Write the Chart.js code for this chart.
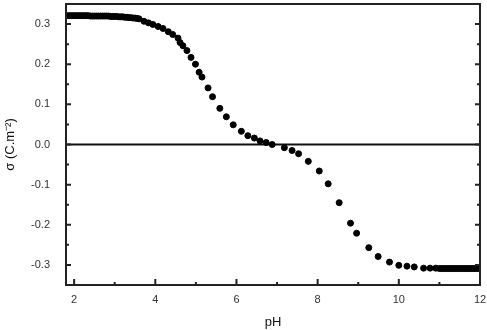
<!DOCTYPE html>
<html>
<head>
<meta charset="utf-8">
<script src="https://cdn.jsdelivr.net/npm/chart.js@4/dist/chart.umd.min.js"></script>
<style>
  html, body { margin: 0; padding: 0; background: #fff; }
  #wrap { width: 487px; height: 330px; }
</style>
</head>
<body>
<div id="wrap"><canvas id="chart"></canvas></div>
<script>
// pH values
const phValues = [
  1.85, 1.90, 1.95, 2.00, 2.05, 2.10, 2.15, 2.20, 2.25, 2.30, 2.35, 2.40,
  2.45, 2.50, 2.55, 2.60, 2.65, 2.70, 2.75, 2.80, 2.85, 2.90, 2.95, 3.00,
  3.05, 3.10, 3.15, 3.20, 3.25, 3.30, 3.35, 3.40, 3.45, 3.50, 3.55, 3.60,
  3.72, 3.83, 3.94, 4.07, 4.19, 4.32, 4.43, 4.56, 4.61, 4.68, 4.78, 4.88,
  4.99, 5.08, 5.15, 5.30, 5.41, 5.59, 5.75, 5.92, 6.12, 6.28, 6.44, 6.58,
  6.73, 6.88, 7.18, 7.37, 7.53, 7.77, 8.04, 8.26, 8.53, 8.81, 8.96, 9.26,
  9.49, 9.77, 10.00, 10.20, 10.38, 10.61, 10.77, 10.91,
  11.00, 11.05, 11.10, 11.15, 11.20, 11.25, 11.30, 11.35, 11.40, 11.45,
  11.50, 11.55, 11.60, 11.65, 11.70, 11.75, 11.80, 11.85, 11.90, 11.95, 12.00
];
// surface charge density (C.m-2)
const sigmaValues = [
  0.321, 0.321, 0.321, 0.321, 0.321, 0.321, 0.321, 0.321, 0.321, 0.321, 0.321, 0.320,
  0.320, 0.320, 0.320, 0.320, 0.320, 0.320, 0.320, 0.320, 0.320, 0.319, 0.319, 0.319,
  0.319, 0.318, 0.318, 0.318, 0.317, 0.317, 0.316, 0.316, 0.315, 0.315, 0.314, 0.313,
  0.307, 0.303, 0.299, 0.294, 0.289, 0.281, 0.274, 0.265, 0.254, 0.246, 0.234, 0.217,
  0.200, 0.180, 0.168, 0.141, 0.119, 0.090, 0.069, 0.049, 0.033, 0.022, 0.016, 0.009,
  0.005, 0.000, -0.008, -0.015, -0.023, -0.042, -0.066, -0.098, -0.145, -0.196, -0.221, -0.257,
  -0.279, -0.293, -0.301, -0.303, -0.305, -0.308, -0.308, -0.308,
  -0.309, -0.309, -0.309, -0.309, -0.309, -0.309, -0.309, -0.309, -0.309, -0.309,
  -0.309, -0.309, -0.309, -0.309, -0.309, -0.309, -0.309, -0.309, -0.309, -0.309, -0.307
];
const xTicks = [2, 4, 6, 8, 10, 12];
const xMinorTicks = [3, 5, 7, 9, 11];
const yTicks = [-0.3, -0.2, -0.1, 0.0, 0.1, 0.2, 0.3];
const yMinorTicks = [-0.35, -0.25, -0.15, -0.05, 0.05, 0.15, 0.25];

const points = phValues.map((x, i) => ({ x: x, y: sigmaValues[i] }));

const frame = {
  id: 'frame',
  beforeDatasetsDraw(chart) {
    const { ctx, chartArea: a, scales } = chart;
    const y0 = scales.y.getPixelForValue(0);
    ctx.save();
    ctx.strokeStyle = '#111';
    ctx.lineWidth = 2;
    ctx.beginPath();
    ctx.moveTo(a.left, y0);
    ctx.lineTo(a.right, y0);
    ctx.stroke();
    ctx.restore();
  },
  afterDraw(chart) {
    const { ctx, chartArea: a, scales } = chart;
    ctx.save();
    ctx.strokeStyle = '#222';
    ctx.lineWidth = 2;
    ctx.strokeRect(a.left, a.top, a.right - a.left, a.bottom - a.top);
    ctx.beginPath();
    const tickY = (v, len) => {
      const p = scales.y.getPixelForValue(v);
      ctx.moveTo(a.left, p); ctx.lineTo(a.left + len, p);
      ctx.moveTo(a.right, p); ctx.lineTo(a.right - len, p);
    };
    yTicks.forEach((v) => tickY(v, 5));
    yMinorTicks.forEach((v) => tickY(v, 3));
    const tickX = (v, len) => {
      const p = scales.x.getPixelForValue(v);
      ctx.moveTo(p, a.bottom); ctx.lineTo(p, a.bottom - len);
    };
    xTicks.forEach((v) => tickX(v, 6));
    xMinorTicks.forEach((v) => tickX(v, 3));
    ctx.stroke();
    ctx.restore();
  }
};

const font = { family: '"Liberation Sans", Arial, sans-serif' };

new Chart(document.getElementById('chart'), {
  type: 'scatter',
  data: {
    datasets: [{
      data: points,
      backgroundColor: '#000',
      borderColor: '#000',
      pointRadius: 3,
      pointHoverRadius: 3
    }]
  },
  options: {
    responsive: true,
    maintainAspectRatio: false,
    animation: false,
    layout: { autoPadding: false, padding: { top: 4, right: 7, left: 0, bottom: 0 } },
    plugins: { legend: { display: false }, tooltip: { enabled: false } },
    scales: {
      x: {
        type: 'linear',
        min: 1.8,
        max: 12,
        grid: { display: false, drawTicks: false },
        border: { display: false },
        afterBuildTicks: (s) => { s.ticks = xTicks.map((v) => ({ value: v })); },
        afterFit: (s) => { s.height = 45; s.paddingLeft = 0; s.paddingRight = 0; },
        ticks: {
          padding: 8,
          color: '#333',
          font: { ...font, size: 11 },
          maxRotation: 0,
          callback: (v) => String(v)
        },
        title: {
          display: true,
          text: 'pH',
          color: '#111',
          font: { ...font, size: 13 },
          padding: { top: 4, bottom: 0 }
        }
      },
      y: {
        type: 'linear',
        min: -0.35,
        max: 0.35,
        grid: { display: false, drawTicks: false },
        border: { display: false },
        afterBuildTicks: (s) => { s.ticks = yTicks.map((v) => ({ value: v })); },
        afterFit: (s) => { s.width = 66; s.paddingTop = 0; s.paddingBottom = 0; },
        ticks: {
          padding: 16,
          color: '#333',
          font: { ...font, size: 11 },
          callback: (v) => v.toFixed(1)
        },
        title: {
          display: true,
          text: 'σ (C.m⁻²)',
          color: '#111',
          font: { ...font, size: 13 },
          padding: { top: 3, bottom: 0 }
        }
      }
    }
  },
  plugins: [frame]
});
</script>
</body>
</html>
